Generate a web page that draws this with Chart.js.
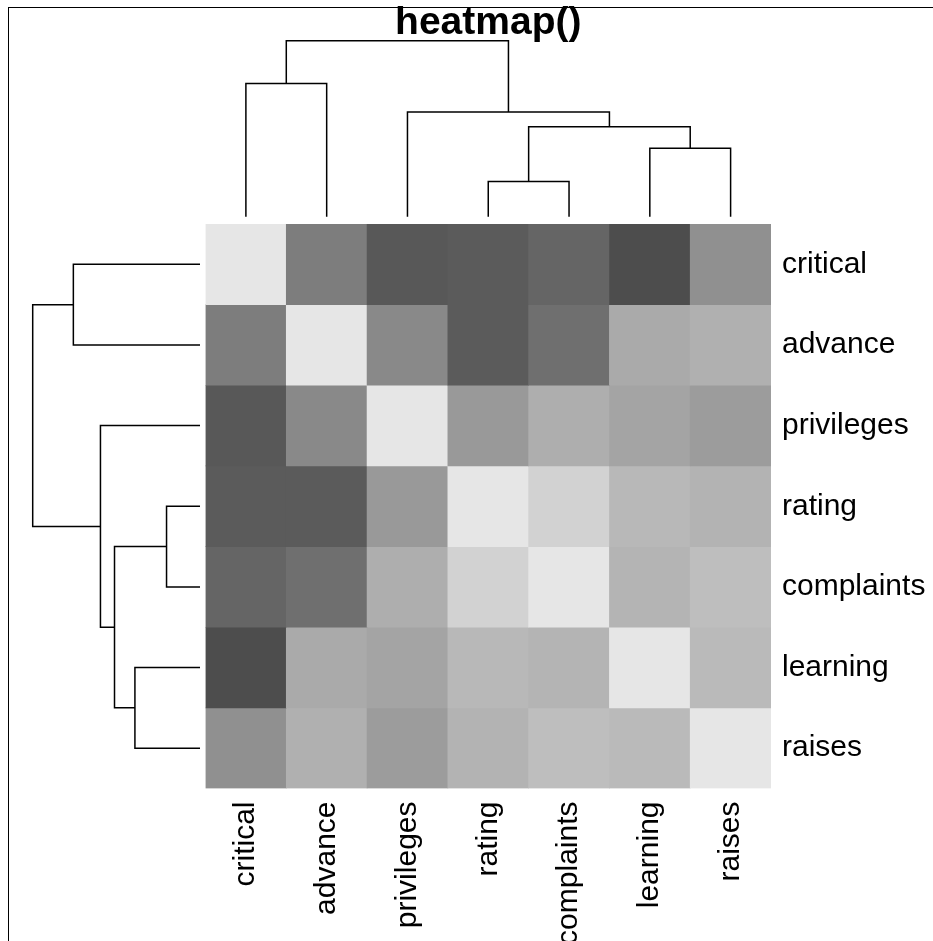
<!DOCTYPE html>
<html>
<head>
<meta charset="utf-8">
<script src="https://cdn.jsdelivr.net/npm/chart.js@4.4.0/dist/chart.umd.min.js"></script>
<style>
  html, body { margin: 0; padding: 0; background: #fff; overflow: hidden; }
  #wrap { position: relative; width: 933px; height: 941px; }
  #wrap canvas { position: absolute; left: 0; top: 0; }
  #frame { position: absolute; left: 8px; top: 7px; width: 1000px; height: 1000px;
           border-left: 1px solid #000; border-top: 1px solid #000; }
</style>
</head>
<body>
<div id="wrap">
  <div id="frame"></div>
  <canvas id="heat" width="933" height="941"></canvas>
  <canvas id="dendTop" width="933" height="941"></canvas>
  <canvas id="dendLeft" width="933" height="941"></canvas>
</div>
<script>
// variables in dendrogram order (rows top->bottom, columns left->right)
const varNames = ['critical', 'advance', 'privileges', 'rating', 'complaints', 'learning', 'raises'];

// correlation values, one row per variable
const critical   = [1.000, 0.283, 0.147, 0.156, 0.188, 0.116, 0.377];
const advance    = [0.283, 1.000, 0.343, 0.155, 0.225, 0.532, 0.574];
const privileges = [0.147, 0.343, 1.000, 0.426, 0.558, 0.493, 0.445];
const rating     = [0.156, 0.155, 0.426, 1.000, 0.825, 0.624, 0.590];
const complaints = [0.188, 0.225, 0.558, 0.825, 1.000, 0.597, 0.669];
const learning   = [0.116, 0.532, 0.493, 0.624, 0.597, 1.000, 0.640];
const raises     = [0.377, 0.574, 0.445, 0.590, 0.669, 0.640, 1.000];
const matrix = [critical, advance, privileges, rating, complaints, learning, raises];

// dendrogram merges (hclust style): negative = leaf position (1-based), positive = earlier merge
const mergeLeft   = [-4, -6, 1, -3, -1, 5];
const mergeRight  = [-5, -7, 2,  3, -2, 4];
const mergeHeight = [0.200, 0.389, 0.511, 0.595, 0.757, 1.000];

const FONT = "'Liberation Sans', Arial, Helvetica, sans-serif";
Chart.defaults.font.family = FONT;
Chart.defaults.color = '#000';

// gray.colors() style ramp, gamma 2.2 from 0.3 to 0.9
const allVals = matrix.flat();
const lo = Math.min(...allVals), hi = Math.max(...allVals);
function grayFor(v) {
  const t = (v - lo) / (hi - lo);
  const a = Math.pow(0.3, 2.2), b = Math.pow(0.9, 2.2);
  const g = Math.round(Math.pow(a + t * (b - a), 1 / 2.2) * 255);
  return 'rgb(' + g + ',' + g + ',' + g + ')';
}

// turn merges into U shaped segments [[pos,h],...]
function dendroSegments() {
  const pos = [], hgt = [], segs = [];
  const node = k => k < 0 ? { p: -k - 1, h: 0 } : { p: pos[k - 1], h: hgt[k - 1] };
  for (let i = 0; i < mergeLeft.length; i++) {
    const a = node(mergeLeft[i]), b = node(mergeRight[i]), h = mergeHeight[i];
    segs.push([[a.p, a.h], [a.p, h], [b.p, h], [b.p, b.h]]);
    pos.push((a.p + b.p) / 2);
    hgt.push(h);
  }
  return segs;
}
const segs = dendroSegments();

function lineSet(points) {
  return {
    data: points, showLine: true, borderColor: '#000', borderWidth: 1.5,
    pointRadius: 0, tension: 0, clip: false, fill: false
  };
}

// heatmap
new Chart(document.getElementById('heat'), {
  type: 'bar',
  data: {
    labels: varNames,
    datasets: varNames.map((name, r) => ({
      label: name,
      data: varNames.map(() => [r, r + 1]),
      backgroundColor: matrix[r].map(grayFor),
      borderWidth: 0,
      barPercentage: 1,
      categoryPercentage: 1,
      yAxisID: 'y'
    }))
  },
  options: {
    responsive: false,
    animation: false,
    events: [],
    layout: { padding: { left: 205.5, top: 224, right: 0, bottom: 0 } },
    plugins: { legend: { display: false }, tooltip: { enabled: false } },
    scales: {
      x: {
        type: 'category', stacked: true, offset: true,
        grid: { display: false, drawTicks: false }, border: { display: false },
        ticks: { autoSkip: false, minRotation: 90, maxRotation: 90, padding: 13,
                 font: { size: 30 }, color: '#000' },
        afterFit: s => { s.height = 152.5; }
      },
      y: { type: 'linear', min: 0, max: 7, reverse: true, stacked: false, display: false },
      yl: {
        type: 'category', labels: varNames, position: 'right', offset: true,
        grid: { display: false, drawTicks: false }, border: { display: false },
        ticks: { autoSkip: false, padding: 11, font: { size: 30 }, color: '#000' },
        afterFit: s => { s.width = 162; }
      }
    }
  }
});

// column dendrogram + title
new Chart(document.getElementById('dendTop'), {
  type: 'scatter',
  data: { datasets: segs.map(s => lineSet(s.map(p => ({ x: p[0], y: p[1] })))) },
  options: {
    responsive: false,
    animation: false,
    events: [],
    layout: { padding: { left: 205.5, right: 162, top: 0, bottom: 724.3 } },
    plugins: {
      legend: { display: false }, tooltip: { enabled: false },
      title: {
        display: true, text: 'heatmap()', color: '#000',
        font: { size: 39, weight: 'bold', lineHeight: 0.9 },
        padding: { top: 5.6, bottom: 0 }
      }
    },
    scales: {
      x: { type: 'linear', min: -0.5, max: 6.5, display: false },
      y: { type: 'linear', min: 0, max: 1, display: false }
    }
  }
});

// row dendrogram
new Chart(document.getElementById('dendLeft'), {
  type: 'scatter',
  data: { datasets: segs.map(s => lineSet(s.map(p => ({ x: p[1], y: p[0] })))) },
  options: {
    responsive: false,
    animation: false,
    events: [],
    layout: { padding: { left: 32.7, right: 733, top: 224, bottom: 152.5 } },
    plugins: { legend: { display: false }, tooltip: { enabled: false } },
    scales: {
      x: { type: 'linear', min: 0, max: 1, reverse: true, display: false },
      y: { type: 'linear', min: -0.5, max: 6.5, reverse: true, display: false }
    }
  }
});
</script>
</body>
</html>
